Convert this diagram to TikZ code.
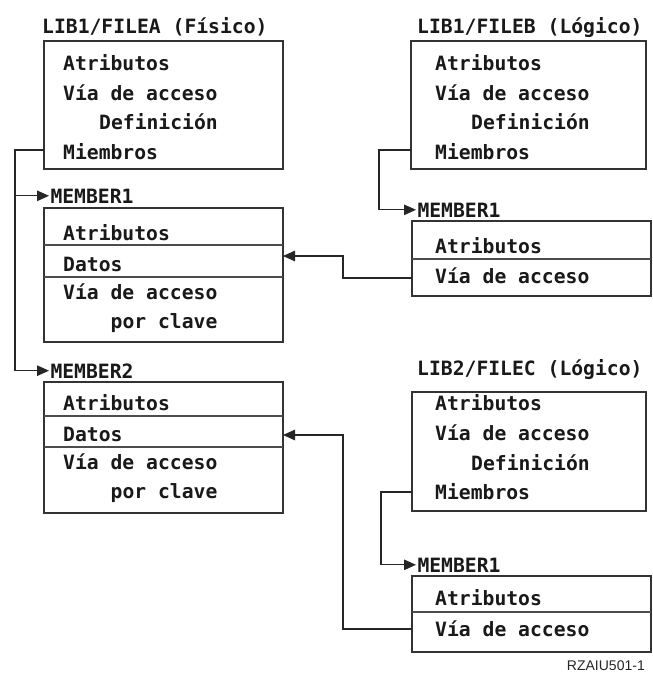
\documentclass[tikz,border=0pt]{standalone}
\usepackage{fontspec}
\setmonofont{DejaVu Sans Mono}
\setsansfont{Liberation Sans}
\usetikzlibrary{arrows.meta}
\begin{document}
\begin{tikzpicture}[x=1pt,y=-1pt,
  box/.style={draw=black!80, line width=1.2pt, anchor=north west, inner sep=0pt, outer sep=0pt},
  txt/.style={font=\ttfamily\bfseries\fontsize{19.7}{22}\selectfont, text=black!90, anchor=base west, inner sep=0pt},
  lbl/.style={txt, outer sep=1.5pt},
  divider/.style={draw=black!70, line width=1.1pt},
  conn/.style={draw=black!85, line width=1.1pt},
  tip/.style={-{Triangle[length=12pt,width=10.5pt]}},
  arr/.style={conn, tip},
  note/.style={font=\sffamily\fontsize{14}{16}\selectfont, text=black!85, anchor=base east, inner sep=0pt}]
\useasboundingbox (0,0) rectangle (653,691);

% ---------- LIB1/FILEA ----------
\node[txt] (fat) at (42,33) {LIB1/FILEA (Físico)};
\node[box, minimum width=239pt, minimum height=128pt] (fa) at (44,41) {};
\node[txt] (fa1) at (63,70) {Atributos};
\node[txt] (fa2) at (63,100) {Vía de acceso};
\node[txt] (fa3) at (99,129) {Definición};
\node[txt] (fa4) at (63,159) {Miembros};

% ---------- MEMBER1 of FILEA ----------
\node[lbl] (ma1t) at (49,203) {MEMBER1};
\node[box, minimum width=239pt, minimum height=134pt] (ma1) at (44,208) {};
\node[txt] (ma11) at (63,240) {Atributos};
\node[txt] (ma12) at (63,271) {Datos};
\node[txt] (ma13) at (63,299) {Vía de acceso};
\node[txt] (ma14) at (110.5,328) {por clave};
\draw[divider] (ma1.west |- 0,245) -- (ma1.east |- 0,245);
\draw[divider] (ma1.west |- 0,277) -- (ma1.east |- 0,277);

% ---------- MEMBER2 of FILEA ----------
\node[lbl] (ma2t) at (49,378) {MEMBER2};
\node[box, minimum width=239pt, minimum height=131pt] (ma2) at (44,382) {};
\node[txt] (ma21) at (63,410) {Atributos};
\node[txt] (ma22) at (63,441) {Datos};
\node[txt] (ma23) at (63,469) {Vía de acceso};
\node[txt] (ma24) at (110.5,498) {por clave};
\draw[divider] (ma2.west |- 0,416) -- (ma2.east |- 0,416);
\draw[divider] (ma2.west |- 0,447) -- (ma2.east |- 0,447);

% ---------- LIB1/FILEB ----------
\node[txt] (fbt) at (417,33) {LIB1/FILEB (Lógico)};
\node[box, minimum width=235pt, minimum height=128pt] (fb) at (411,41) {};
\node[txt] (fb1) at (435,70) {Atributos};
\node[txt] (fb2) at (435,100) {Vía de acceso};
\node[txt] (fb3) at (471,129) {Definición};
\node[txt] (fb4) at (435,159) {Miembros};

% ---------- MEMBER1 of FILEB ----------
\node[lbl] (mb1t) at (416,217) {MEMBER1};
\node[box, minimum width=239pt, minimum height=75pt] (mb1) at (412,221) {};
\node[txt] (mb11) at (435,253) {Atributos};
\node[txt] (mb12) at (435,283) {Vía de acceso};
\draw[divider] (mb1.west |- 0,259) -- (mb1.east |- 0,259);

% ---------- LIB2/FILEC ----------
\node[txt] (fct) at (417,375) {LIB2/FILEC (Lógico)};
\node[box, minimum width=234pt, minimum height=119pt] (fc) at (412,392) {};
\node[txt] (fc1) at (435,410) {Atributos};
\node[txt] (fc2) at (435,440) {Vía de acceso};
\node[txt] (fc3) at (471,470) {Definición};
\node[txt] (fc4) at (435,499) {Miembros};

% ---------- MEMBER1 of FILEC ----------
\node[lbl] (mc1t) at (416,572) {MEMBER1};
\node[box, minimum width=239pt, minimum height=76pt] (mc1) at (412,576) {};
\node[txt] (mc11) at (435,605) {Atributos};
\node[txt] (mc12) at (435,636) {Vía de acceso};
\draw[divider] (mc1.west |- 0,612) -- (mc1.east |- 0,612);

% ---------- connectors ----------
\coordinate (ta) at (15,150);
\coordinate (tb) at (379,150);
\coordinate (tc) at (381,492);
\coordinate (bendb) at (343,278);
\coordinate (bendc) at (343,629);

\draw[arr] (fa.west |- ta) -- (ta) |- (ma2t.west);
\draw[arr] (ta |- ma1t.west) -- (ma1t.west);
\draw[arr] (fb.west |- tb) -- (tb) |- (mb1t.west);
\draw[arr] (fc.west |- tc) -- (tc) |- (mc1t.west);
\draw[arr] (mb1.west |- bendb) -- (bendb) |- (ma1.east |- 0,256);
\draw[arr] (mc1.west |- bendc) -- (bendc) |- (ma2.east |- 0,435);

\node[note] (id) at (645,670) {RZAIU501-1};
\end{tikzpicture}
\end{document}
